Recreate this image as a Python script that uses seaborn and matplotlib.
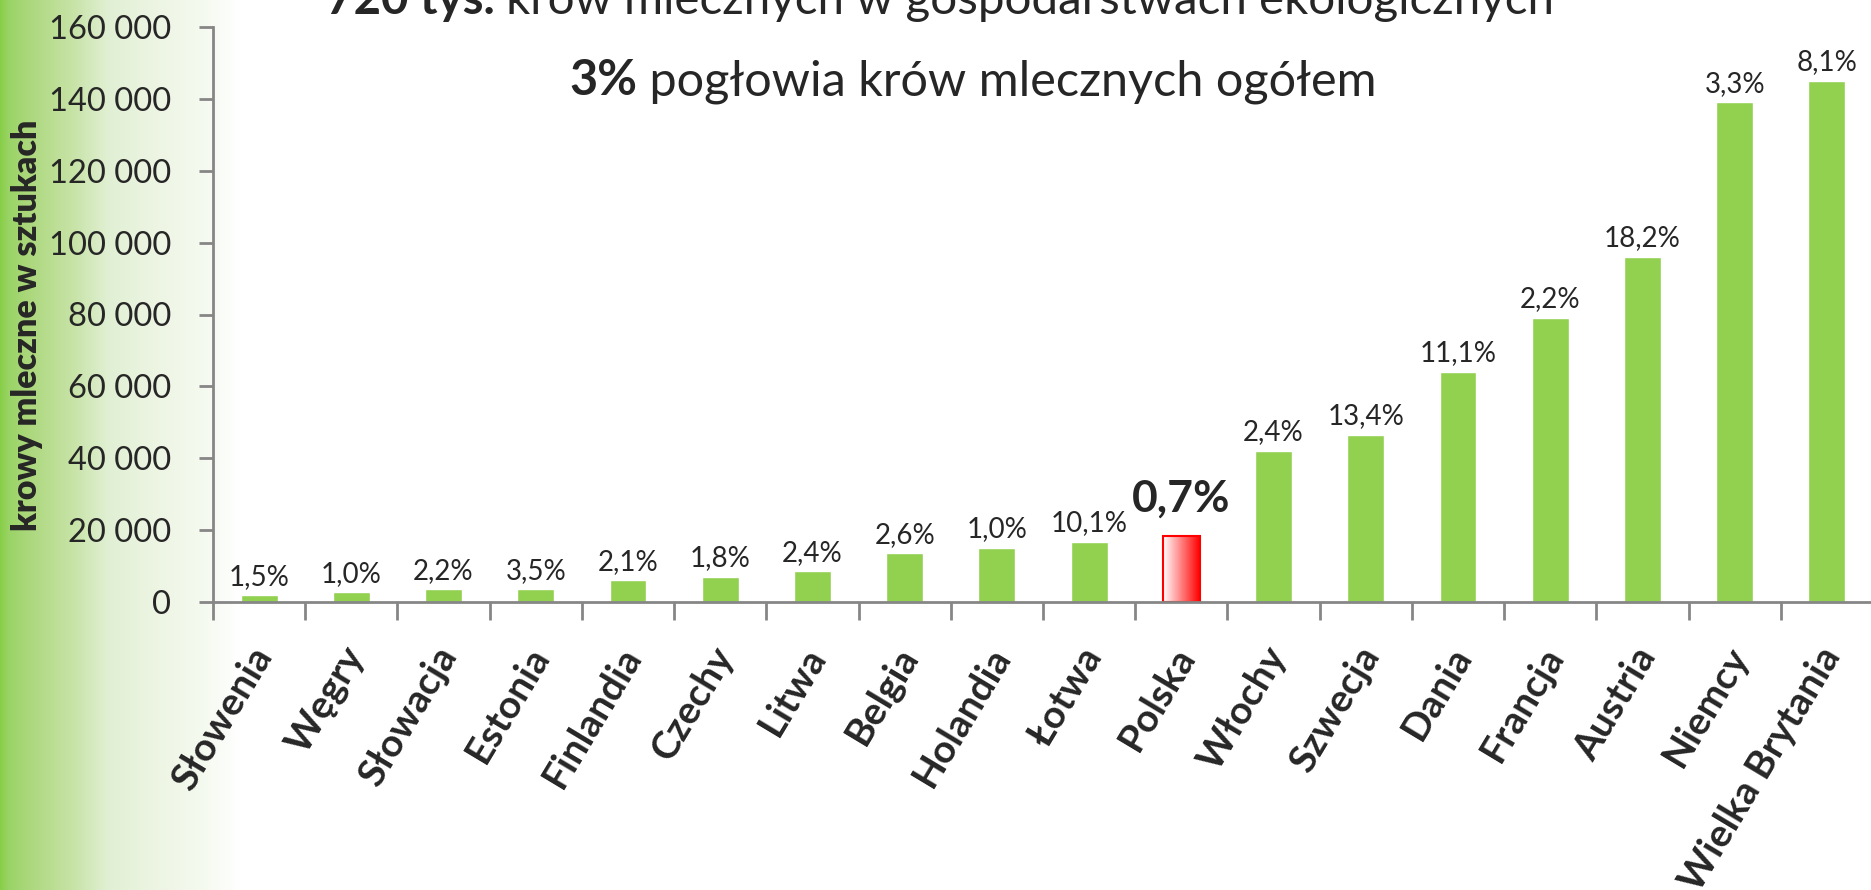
import numpy as np
import pandas as pd
import matplotlib
matplotlib.use("Agg")
import matplotlib.pyplot as plt
import matplotlib.transforms as mtransforms
from matplotlib.colors import LinearSegmentedColormap
from matplotlib.ticker import FuncFormatter
import seaborn as sns

# ---- data ----
countries = ["Słowenia", "Węgry", "Słowacja", "Estonia", "Finlandia", "Czechy",
             "Litwa", "Belgia", "Holandia", "Łotwa", "Polska", "Włochy",
             "Szwecja", "Dania", "Francja", "Austria", "Niemcy", "Wielka Brytania"]
cows = [1900, 2700, 3500, 3500, 6000, 7000, 8500, 13500, 15000, 16800, 18500,
        42000, 46500, 64000, 79000, 96000, 139000, 145000]
shares = ["1,5%", "1,0%", "2,2%", "3,5%", "2,1%", "1,8%", "2,4%", "2,6%", "1,0%",
          "10,1%", "0,7%", "2,4%", "13,4%", "11,1%", "2,2%", "18,2%", "3,3%", "8,1%"]
yticks = [0, 20000, 40000, 60000, 80000, 100000, 120000, 140000, 160000]
highlight = "Polska"
title_bold_1, title_rest_1 = "720 tys.", " krów mlecznych w gospodarstwach ekologicznych"
title_bold_2, title_rest_2 = "3%", " pogłowia krów mlecznych ogółem"
ylabel = "krowy mleczne w sztukach"

df = pd.DataFrame({"kraj": countries, "krowy": cows, "udzial": shares})

sns.set_theme(style="white")
FONT = ["Lato", "DejaVu Sans"]
plt.rcParams["font.family"] = FONT

W, H = 1871, 890
fig = plt.figure(figsize=(W / 100, H / 100), dpi=100)
fig.patch.set_facecolor("white")

# left green gradient band
bg = fig.add_axes([0, 0, 240 / W, 1], zorder=0)
cmap_bg = LinearSegmentedColormap.from_list(
    "bg", [(0.0, (0.53, 0.81, 0.28)), (0.035, (0.60, 0.83, 0.40)),
           (0.1, (0.66, 0.84, 0.47)), (0.3, (0.78, 0.89, 0.65)),
           (0.45, (0.88, 0.94, 0.83)), (0.65, (0.93, 0.96, 0.89)),
           (0.85, (0.96, 0.98, 0.94)), (1.0, (1, 1, 1))])
bg.imshow(np.linspace(0, 1, 256)[None, :], aspect="auto", cmap=cmap_bg,
          extent=[0, 1, 0, 1])
bg.set_axis_off()

ax_left, ax_right = 213 / W, 1873 / W
ax_bottom, ax_top = 1 - 602 / H, 1 - 27 / H
ax = fig.add_axes([ax_left, ax_bottom, ax_right - ax_left, ax_top - ax_bottom], zorder=1)
ax.patch.set_alpha(0)

green = "#92D050"
palette = {c: ("white" if c == highlight else green) for c in countries}
sns.barplot(data=df, x="kraj", y="krowy", hue="kraj", palette=palette,
            width=0.4, legend=False, ax=ax, saturation=1, order=countries)

ax.set_xlim(-0.5, 17.5)
ax.set_ylim(0, 160000)
ax.set_yticks(yticks)
ax.yaxis.set_major_formatter(FuncFormatter(lambda v, p: f"{int(v):,}".replace(",", " ")))
ax.set_xlabel("")
ax.set_ylabel("")

gray = "#868686"
for s in ["top", "right"]:
    ax.spines[s].set_visible(False)
for s in ["left", "bottom"]:
    ax.spines[s].set_color(gray)
    ax.spines[s].set_linewidth(2)

ax.tick_params(axis="y", which="major", length=10, width=2, color=gray,
               labelsize=23.5, pad=20, direction="out", left=True)
ax.set_xticks(range(len(countries)))
ax.set_xticks(np.arange(-0.5, len(countries), 1.0), minor=True)
ax.tick_params(axis="x", which="major", length=0, pad=28, labelsize=28)
ax.tick_params(axis="x", which="minor", length=13, width=2, color=gray,
               direction="out", bottom=True)
ax.set_xticklabels(countries, rotation=59, ha="right", rotation_mode="anchor",
                   fontweight="bold")
off = mtransforms.ScaledTranslation(-10 / 100, 0, fig.dpi_scale_trans)
for lab in ax.get_xticklabels():
    lab.set_transform(lab.get_transform() + off)

# bar labels
bars = ax.patches[:len(countries)]
bars = sorted(bars, key=lambda p: p.get_x())
for i, (p, txt) in enumerate(zip(bars, shares)):
    x = p.get_x() + p.get_width() / 2
    h = p.get_height()
    if countries[i] == highlight:
        ax.annotate(txt, (x, h), xytext=(0, 12), textcoords="offset points",
                    ha="center", va="bottom", fontsize=32, fontweight="bold")
    else:
        ax.annotate(txt, (x, h), xytext=(0, 4), textcoords="offset points",
                    ha="center", va="bottom", fontsize=20)

# Polska gradient bar
pi = countries.index(highlight)
pb = bars[pi]
pb.set_facecolor("none")
pb.set_edgecolor("#FF0000")
pb.set_linewidth(1.5)
cmap_red = LinearSegmentedColormap.from_list("red", ["#FFFFFF", "#FF0000"])
x0, w, h = pb.get_x(), pb.get_width(), pb.get_height()
im = ax.imshow(np.linspace(0, 1, 256)[None, :], cmap=cmap_red, aspect="auto",
               extent=[x0, x0 + w, 0, h], zorder=pb.get_zorder() - 0.1)
im.set_clip_path(pb)
ax.set_xlim(-0.5, 17.5)
ax.set_ylim(0, 160000)

# y label
fig.text(27 / W, 1 - 325 / H, ylabel, rotation=90, ha="center", va="center",
         fontsize=24.5, fontweight="heavy")

# titles (bold part + regular part, centered)
renderer = fig.canvas.get_renderer()

def two_part(bold, rest, cx, base_y, size):
    t1 = fig.text(0, base_y, bold, fontsize=size, fontweight="bold", va="baseline")
    t2 = fig.text(0, base_y, rest, fontsize=size, va="baseline")
    w1 = t1.get_window_extent(renderer).width
    w2 = t2.get_window_extent(renderer).width
    left = cx - (w1 + w2) / 2
    t1.set_x(left / W)
    t2.set_x((left + w1) / W)

two_part(title_bold_1, title_rest_1, 940, 1 - 14 / H, 34.2)
two_part(title_bold_2, title_rest_2, 973, 1 - 95 / H, 35)

fig.savefig("out.png", dpi=100, facecolor="white")
